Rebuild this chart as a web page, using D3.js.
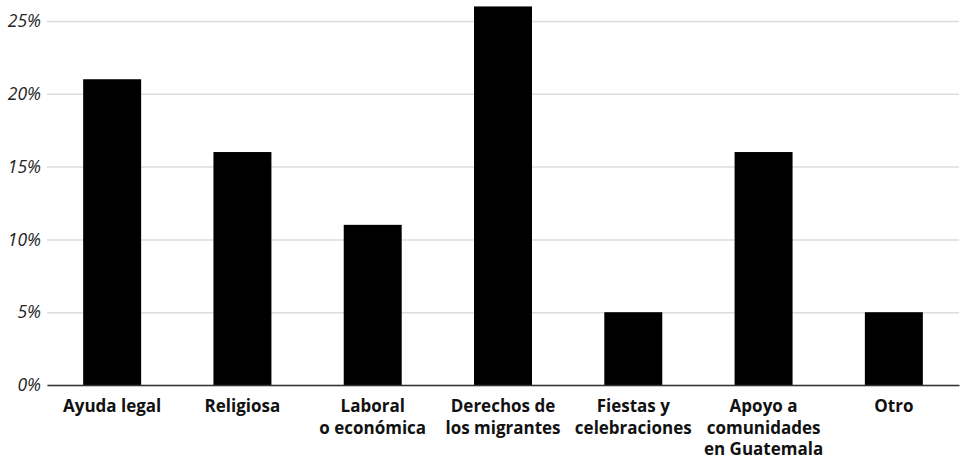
<!DOCTYPE html>
<html>
<head>
<meta charset="utf-8">
<script src="https://cdn.jsdelivr.net/npm/d3@7"></script>
<style>
  body { margin: 0; background: #fff; }
  svg { display: block; }
  .axis text { font-family: "Open Sans", sans-serif; }
  .y.axis text { font-style: italic; font-size: 17.5px; fill: #222; }
  .x.axis text { font-weight: 700; font-size: 17px; fill: #111; }
</style>
</head>
<body>
<div id="target"></div>
<script>
const categories = [
  ['Ayuda legal'],
  ['Religiosa'],
  ['Laboral', 'o económica'],
  ['Derechos de', 'los migrantes'],
  ['Fiestas y', 'celebraciones'],
  ['Apoyo a', 'comunidades', 'en Guatemala'],
  ['Otro']
];
const values = [21, 16, 11, 26, 5, 16, 5];
const yTicks = [0, 5, 10, 15, 20, 25];

const width = 960;
const height = 459;
const margin = {top: 21, right: 1, bottom: 74, left: 47};

const svg = d3.select('#target')
  .append('svg')
  .attr('width', width)
  .attr('height', height);

const data = categories.map((c, i) => ({label: c, key: c.join(' '), value: values[i]}));

const x = d3.scaleBand()
  .domain(data.map(d => d.key))
  .range([margin.left, width - margin.right])
  .paddingInner(0.555)
  .paddingOuter(0.2775);

const y = d3.scaleLinear()
  .domain([0, 25])
  .range([height - margin.bottom, margin.top]);

// gridlines + tick labels
const yAxis = svg.append('g')
  .attr('class', 'y axis')
  .attr('transform', `translate(${margin.left},0)`)
  .call(d3.axisLeft(y).tickValues(yTicks).tickFormat(d => d + '%')
    .tickSize(-(width - margin.left - margin.right)).tickPadding(6));
yAxis.select('.domain').remove();
yAxis.selectAll('.tick line')
  .attr('stroke', '#dcdcdc')
  .attr('stroke-width', 1.5);

svg.append('g')
  .selectAll('rect')
  .data(data)
  .enter()
  .append('rect')
  .attr('x', d => x(d.key))
  .attr('y', d => y(d.value))
  .attr('width', x.bandwidth())
  .attr('height', d => y(0) - y(d.value))
  .attr('fill', '#000');

// baseline
const xAxis = svg.append('g')
  .attr('class', 'x axis')
  .attr('transform', `translate(0,${y(0)})`)
  .call(d3.axisBottom(x).tickSize(0).tickFormat(''));
xAxis.select('.domain')
  .attr('stroke', '#333')
  .attr('stroke-width', 1.5);

xAxis.selectAll('.tick').each(function(k) {
  const d = data.find(e => e.key === k);
  const t = d3.select(this).select('text')
    .attr('y', 0)
    .attr('dy', null);
  d.label.forEach((line, i) => {
    t.append('tspan')
      .attr('x', 0)
      .attr('y', 27 + i * 21.5)
      .text(line);
  });
});
</script>
</body>
</html>
